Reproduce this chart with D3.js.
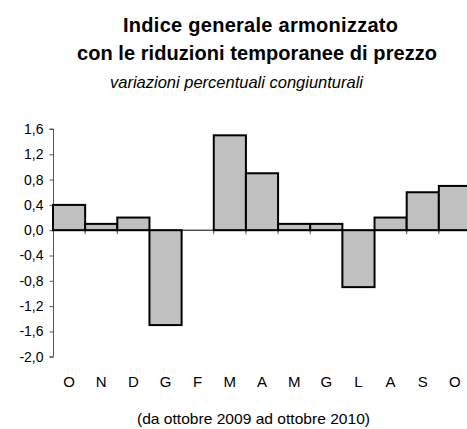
<!DOCTYPE html>
<html>
<head>
<meta charset="utf-8">
<script src="https://cdn.jsdelivr.net/npm/d3@7"></script>
<style>
  html, body { margin: 0; padding: 0; background: #fff; }
  svg { display: block; }
  text { font-family: "Liberation Sans", Arial, sans-serif; fill: #000; }
</style>
</head>
<body>
<script>
const categories = ["O", "N", "D", "G", "F", "M", "A", "M", "G", "L", "A", "S", "O"];
const values = [0.4, 0.1, 0.2, -1.5, 0.0, 1.5, 0.9, 0.1, 0.1, -0.9, 0.2, 0.6, 0.7];
const yTicks = [1.6, 1.2, 0.8, 0.4, 0.0, -0.4, -0.8, -1.2, -1.6, -2.0];
const titleLines = ["Indice generale armonizzato", "con le riduzioni temporanee di prezzo"];
const subtitle = "variazioni percentuali congiunturali";
const footnote = "(da ottobre 2009 ad ottobre 2010)";

const W = 467, H = 429;
const svg = d3.select("body").append("svg").attr("width", W).attr("height", H);

const data = categories.map((c, i) => ({ key: i, cat: c, v: values[i] }));

const x = d3.scaleBand().domain(data.map(d => d.key)).range([53, 471]).padding(0);
const y = d3.scaleLinear().domain([-2, 1.6]).range([356.7, 129]);

// Titles
const titleFont = "'Liberation Sans Narrow', 'Arial Narrow', 'Liberation Sans', Arial, sans-serif";
svg.append("text").attr("x", 260.5).attr("y", 31.5).attr("text-anchor", "middle")
  .style("font-family", titleFont)
  .attr("font-size", 20).attr("font-weight", "bold")
  .attr("textLength", 275).attr("lengthAdjust", "spacing").text(titleLines[0]);
svg.append("text").attr("x", 257).attr("y", 59.5).attr("text-anchor", "middle")
  .style("font-family", titleFont)
  .attr("font-size", 20).attr("font-weight", "bold")
  .attr("textLength", 360).attr("lengthAdjust", "spacing").text(titleLines[1]);
svg.append("text").attr("x", 236.5).attr("y", 87.5).attr("text-anchor", "middle")
  .attr("font-size", 17).attr("font-style", "italic")
  .attr("textLength", 253).attr("lengthAdjust", "spacingAndGlyphs").text(subtitle);

// Y axis
const yAxis = d3.axisLeft(y).tickValues(yTicks).tickSize(4).tickPadding(6)
  .tickFormat(d => d3.format(".1f")(d).replace(".", ",").replace("−", "-"));
const gy = svg.append("g").attr("transform", "translate(53.5,0)").call(yAxis);
gy.select(".domain").attr("stroke", "#555").attr("d", `M-4,${y(1.6)}H0V${y(-2)}H-4`);
gy.selectAll(".tick line").attr("stroke", "#555");
gy.selectAll(".tick text").attr("font-size", 14).attr("font-family", "Liberation Sans, Arial, sans-serif").attr("fill", "#000");

// X ticks at band boundaries (below zero line)
const boundaries = d3.range(1, categories.length).map(i => x(i));
svg.append("g").selectAll("line").data(boundaries).join("line")
  .attr("x1", d => d).attr("x2", d => d)
  .attr("y1", y(0)).attr("y2", y(0) + 4)
  .attr("stroke", "#555").attr("stroke-width", 1);

// Bars
svg.append("g").selectAll("rect").data(data).join("rect")
  .attr("x", d => x(d.key))
  .attr("width", x.bandwidth())
  .attr("y", d => y(Math.max(0, d.v)))
  .attr("height", d => Math.abs(y(d.v) - y(0)))
  .attr("fill", "#c0c0c0")
  .attr("stroke", "#000")
  .attr("stroke-width", d => d.v === 0 ? 0 : 2);

// Zero line
svg.append("line").attr("x1", 53).attr("x2", 471)
  .attr("y1", y(0)).attr("y2", y(0)).attr("stroke", "#000").attr("stroke-width", 1);

// X category labels
svg.append("g").selectAll("text").data(data).join("text")
  .attr("x", d => x(d.key) + x.bandwidth() / 2)
  .attr("y", 386.5)
  .attr("text-anchor", "middle")
  .attr("font-size", 15)
  .text(d => d.cat);

// Footnote
svg.append("text").attr("x", 253.5).attr("y", 424).attr("text-anchor", "middle")
  .attr("font-size", 14.5).attr("textLength", 233).attr("lengthAdjust", "spacingAndGlyphs")
  .text(footnote);
</script>
</body>
</html>
